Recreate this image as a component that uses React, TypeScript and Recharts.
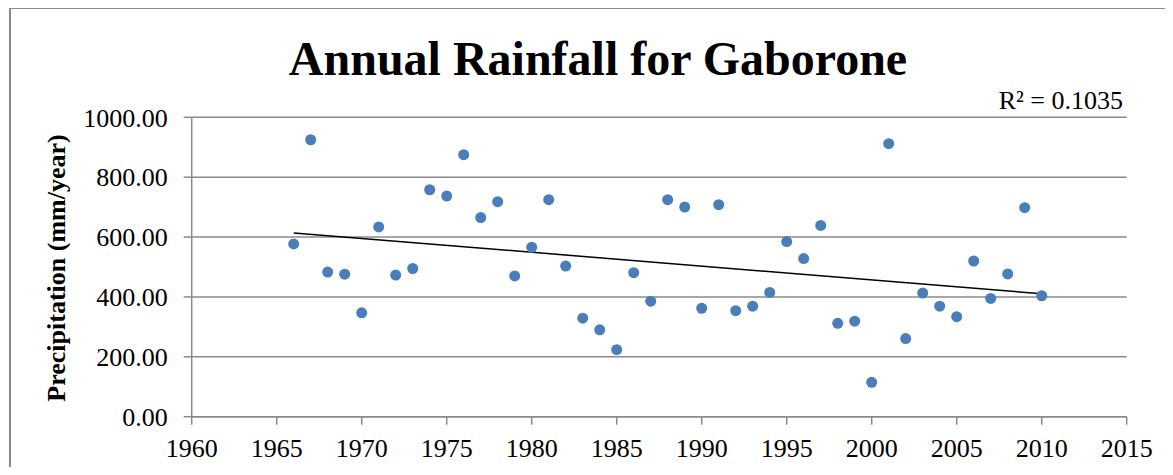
import { ScatterChart, Scatter, XAxis, YAxis, CartesianGrid, ReferenceLine } from 'recharts'

const years = [
  1966, 1967, 1968, 1969, 1970, 1971, 1972, 1973, 1974, 1975,
  1976, 1977, 1978, 1979, 1980, 1981, 1982, 1983, 1984, 1985,
  1986, 1987, 1988, 1989, 1990, 1991, 1992, 1993, 1994, 1995,
  1996, 1997, 1998, 1999, 2000, 2001, 2002, 2003, 2004, 2005,
  2006, 2007, 2008, 2009, 2010,
]

const rainfall = [
  577, 925, 483, 476, 347, 634, 473, 495, 758, 737,
  875, 665, 718, 470, 566, 725, 503, 329, 290, 224,
  481, 386, 725, 700, 362, 708, 354, 369, 415, 585,
  528, 639, 312, 319, 115, 912, 261, 413, 369, 334,
  520, 395, 477, 698, 404,
]

const xTicks = [1960, 1965, 1970, 1975, 1980, 1985, 1990, 1995, 2000, 2005, 2010, 2015]
const yTicks = [0, 200, 400, 600, 800, 1000]

const FONT = '"Liberation Serif", "Times New Roman", serif'
const GRID = '#8a8a8a'

const points = years.map((x, i) => ({ x, y: rainfall[i] }))

// least squares trendline from the data
function trend() {
  const n = years.length
  const mx = years.reduce((a, b) => a + b, 0) / n
  const my = rainfall.reduce((a, b) => a + b, 0) / n
  let sxy = 0
  let sxx = 0
  years.forEach((x, i) => {
    sxy += (x - mx) * (rainfall[i] - my)
    sxx += (x - mx) * (x - mx)
  })
  const slope = sxy / sxx
  const x0 = years[0]
  const x1 = years[n - 1]
  return [
    { x: x0, y: my + slope * (x0 - mx) },
    { x: x1, y: my + slope * (x1 - mx) },
  ]
}

const Dot = (p: any) => <circle cx={p.cx} cy={p.cy} r={5.5} fill="#4a7ebb" />

export default function App() {
  const tick = { fill: '#000', fontSize: 26, fontFamily: FONT }
  return (
    <div style={{ position: 'relative', width: 1165, height: 459, overflow: 'hidden', background: '#fff' }}>
      <div
        style={{
          position: 'absolute',
          left: 1,
          top: -1,
          width: 1300,
          height: 600,
          border: `2px solid ${GRID}`,
        }}
      />
      <ScatterChart width={1165} height={459} margin={{ top: 109.3, right: 46.3, bottom: 0, left: 0 }}>
        <CartesianGrid vertical={false} stroke={GRID} strokeWidth={1.5} />
        <XAxis
          type="number"
          dataKey="x"
          domain={[1960, 2015]}
          ticks={xTicks}
          interval={0}
          height={50.3}
          tickSize={8}
          tickMargin={14}
          stroke={GRID}
          strokeWidth={1.5}
          tick={tick}
        />
        <YAxis
          type="number"
          dataKey="y"
          domain={[0, 1000]}
          ticks={yTicks}
          interval={0}
          width={183.7}
          tickSize={8}
          tickMargin={16}
          stroke={GRID}
          strokeWidth={1.5}
          tick={tick}
          tickFormatter={(v: number) => v.toFixed(2)}
        />
        <ReferenceLine segment={trend()} stroke="#000" strokeWidth={1.5} />
        <Scatter data={points} shape={Dot} isAnimationActive={false} />
      </ScatterChart>
      <svg width={1165} height={459} style={{ position: 'absolute', left: 0, top: 0, pointerEvents: 'none' }}>
        <text x={590} y={67} textAnchor="middle" fontFamily={FONT} fontSize={48} fontWeight="bold" fill="#000">
          Annual Rainfall for Gaborone
        </text>
        <text x={1115} y={101} textAnchor="end" fontFamily={FONT} fontSize={26} fill="#000">
          R² = 0.1035
        </text>
        <text
          x={57}
          y={260}
          transform="rotate(-90, 57, 260)"
          textAnchor="middle"
          fontFamily={FONT}
          fontSize={26}
          fontWeight="bold"
          fill="#000"
        >
          Precipitation (mm/year)
        </text>
      </svg>
    </div>
  )
}
